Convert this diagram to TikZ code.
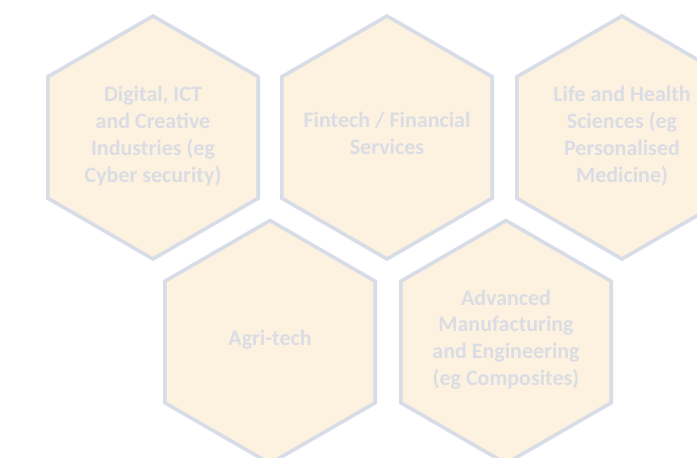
\documentclass[tikz,border=0pt]{standalone}
\usepackage{fontspec}
\setmainfont{Carlito}
\definecolor{hexfill}{RGB}{253,241,224}
\definecolor{hexline}{RGB}{215,221,231}
\definecolor{hextext}{RGB}{218,221,228}
\tikzset{
  hexshape/.style={draw=hexline, fill=hexfill, line width=3.6pt},
  hexlabel/.style={text=hextext, align=center, inner sep=0pt,
    font=\fontsize{22}{26.8}\selectfont\bfseries}
}
\newcommand\hexpath{+(0,-121.5) -- +(105.2,-60.75) -- +(105.2,60.75) -- +(0,121.5) -- +(-105.2,60.75) -- +(-105.2,-60.75) -- cycle}
\begin{document}
\begin{tikzpicture}[x=1pt,y=-1pt]
\useasboundingbox (0,0) rectangle (697,458);
\clip (0,0) rectangle (697,458);
\coordinate (c1) at (153,137.5);
\coordinate (c2) at (387,137.5);
\coordinate (c3) at (622,137.5);
\coordinate (c4) at (270,342);
\coordinate (c5) at (506,342);
\foreach \c in {c1,c2,c3,c4,c5}{\draw[hexshape] (\c) \hexpath;}
\node[hexlabel] (digital) at ([yshift=1.5pt]c1) {Digital, ICT\\and Creative\\Industries (eg\\Cyber security)};
\node[hexlabel] (fintech) at ([yshift=4pt]c2) {Fintech / Financial\\Services};
\node[hexlabel] (life) at ([yshift=1.5pt]c3) {Life and Health\\Sciences (eg\\Personalised\\Medicine)};
\node[hexlabel] (agri) at ([yshift=2pt]c4) {Agri-tech};
\node[hexlabel] (adv) at ([yshift=2.5pt]c5) {Advanced\\Manufacturing\\and Engineering\\(eg Composites)};
\end{tikzpicture}
\end{document}
